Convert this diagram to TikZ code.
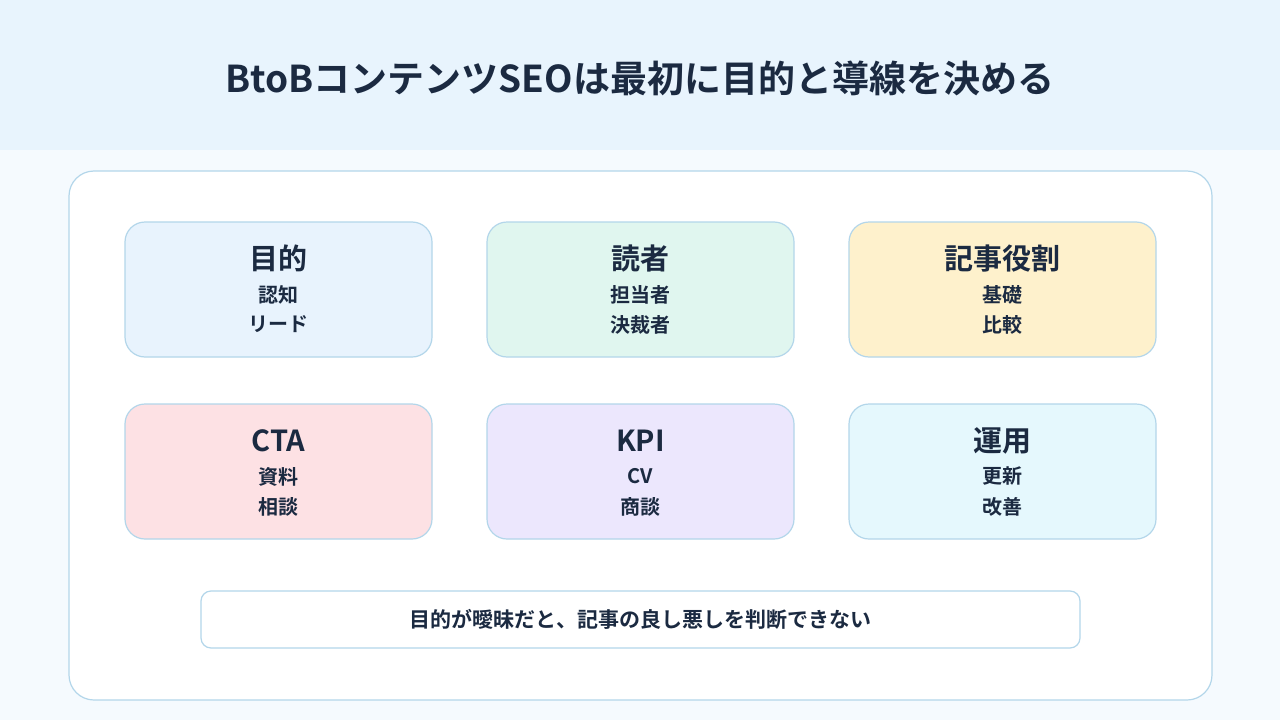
\documentclass[tikz,border=0pt]{standalone}
\usepackage{fontspec}
\setmainfont{Noto Sans CJK JP}[BoldFont={Noto Sans CJK JP Bold}]
\definecolor{ink}{HTML}{1B2A41}
\definecolor{hdr}{HTML}{E8F4FD}
\definecolor{bg}{HTML}{F5FAFE}
\definecolor{bd}{HTML}{B3D6EA}
\definecolor{cA}{HTML}{E8F3FD}
\definecolor{cB}{HTML}{E0F6EF}
\definecolor{cC}{HTML}{FEF1CC}
\definecolor{cD}{HTML}{FDE1E4}
\definecolor{cE}{HTML}{ECE7FD}
\definecolor{cF}{HTML}{E5F8FD}
\tikzset{card/.style={draw=bd,line width=1.2pt,rounded corners=20pt,minimum width=307pt,minimum height=135pt,inner sep=0pt},
ttl/.style={text=ink,font=\fontsize{29}{31}\selectfont\bfseries},
sub/.style={text=ink,font=\fontsize{20}{22}\selectfont\bfseries}}
\begin{document}
\begin{tikzpicture}[x=1pt,y=-1pt]
\fill[bg] (0,0) rectangle (1280,720);
\useasboundingbox (0,0) rectangle (1280,720);
\fill[hdr] (0,0) rectangle (1280,150);
\node[text=ink,font=\fontsize{37}{39}\selectfont\bfseries] (title) at (640,78) {BtoBコンテンツSEOは最初に目的と導線を決める};
\node[draw=bd,fill=white,line width=1.2pt,rounded corners=25pt,minimum width=1143pt,minimum height=529pt] (panel) at (640.5,435.5) {};
\foreach \n/\x/\y/\c/\t/\a/\b in {a/278.5/289.5/cA/目的/認知/リード, b/640.5/289.5/cB/読者/担当者/決裁者, c/1002.5/289.5/cC/記事役割/基礎/比較, d/278.5/471.5/cD/CTA/資料/相談, e/640.5/471.5/cE/KPI/CV/商談, f/1002.5/471.5/cF/運用/更新/改善}{
\node[card,fill=\c] (\n) at (\x,\y) {};
\node[ttl] (\n t) at (\x,\y-31) {\t};
\node[sub] (\n 1) at (\x,\y+5) {\a};
\node[sub] (\n 2) at (\x,\y+35) {\b};
}
\node[draw=bd,fill=white,line width=1.2pt,rounded corners=10pt,minimum width=879pt,minimum height=57pt,sub,font=\fontsize{21}{23}\selectfont\bfseries] (note) at (640.5,619.5) {目的が曖昧だと、記事の良し悪しを判断できない};
\end{tikzpicture}
\end{document}
